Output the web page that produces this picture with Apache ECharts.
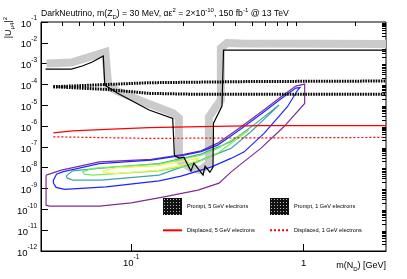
<!DOCTYPE html>
<html><head><meta charset="utf-8">
<script src="https://cdn.jsdelivr.net/npm/echarts@6/dist/echarts.min.js"></script>
<style>html,body{margin:0;padding:0;background:#fff}#c{width:407px;height:279px}</style>
</head><body><div id="c"></div>
<script>
const FONT = '"Liberation Sans", Arial, Helvetica, sans-serif';

// ---- tick definitions ----
const xMajorTicks = [0.1, 1];
const xMinorTicks = [0.04,0.05,0.06,0.07,0.08,0.09,0.2,0.3,0.4,0.5,0.6,0.7,0.8,0.9,2];
const yDecadeExponents = [-12,-11,-10,-9,-8,-7,-6,-5,-4,-3,-2,-1];
const yMinorMultipliers = [2,3,4,5,6,7,8,9];

// ---- series data: [m(N_D) GeV, |U_mu4|^2] ----
const grayBand = [[0.0323,1.01e-3],[0.045,1.13e-3],[0.0708,3.6e-3],[0.0736,8.4e-5],[0.083,4.8e-5],[0.127,1.14e-5],[0.175,4.2e-6],[0.189,2.4e-6],[0.189,2.3e-8],[0.222,9.6e-9],[0.254,7.7e-9],[0.282,1.66e-8],[0.282,2.7e-6],[0.306,7.3e-6],[0.331,1.78e-5],[0.331,5.6e-3],[0.359,9.8e-3],[0.432,9.2e-3],[3,8.75e-3]];
const limitLine = [[0.0319,5.5e-4],[0.045,5.5e-4],[0.0521,7.67e-4],[0.0595,1.19e-3],[0.0689,2.32e-3],[0.0703,9.35e-5],[0.083,3.86e-5],[0.127,5.9e-6],[0.174,2.34e-6],[0.178,4.0e-8],[0.189,2.9e-8],[0.202,3.2e-8],[0.222,6.9e-9],[0.231,1.66e-8],[0.261,4.4e-9],[0.268,1.19e-8],[0.286,6.1e-9],[0.298,1.07e-8],[0.300,1.39e-6],[0.336,9.2e-6],[0.343,4.5e-3],[3,4.5e-3]];
const prompt5 = [[0.0354,7.75e-5],[0.127,1.21e-4],[0.494,1.38e-4],[3,1.46e-4]];
const prompt1 = [[0.0354,7.75e-5],[0.0717,5.8e-5],[0.127,3.73e-5],[0.254,3.34e-5],[3,3.34e-5]];
const displaced5 = [[0.0354,4.77e-7],[0.0456,5.94e-7],[0.0717,6.93e-7],[0.127,8.47e-7],[0.254,9.46e-7],[0.564,1.06e-6],[3,1.06e-6]];
const displaced1 = [[0.0354,3.06e-7],[0.0671,2.8e-7],[0.127,2.56e-7],[0.494,2.71e-7],[3,2.86e-7]];
const contourPurple = [[0.0321,4.41e-9],[0.0394,7.67e-9],[0.0653,1.92e-8],[0.1305,2.51e-8],[0.2025,4.36e-8],[0.254,6.49e-8],[0.317,1.52e-7],[0.3785,4.12e-7],[0.432,8.95e-7],[0.587,5.88e-6],[0.736,2.48e-5],[0.899,8.38e-5],[1.013,1.04e-4],[1.013,1.23e-5],[0.767,9.25e-7],[0.564,8.48e-8],[0.432,1.49e-8],[0.3785,6.14e-9],[0.323,1.82e-9],[0.244,8.38e-10],[0.155,3.99e-10],[0.1,2.05e-10],[0.0653,1.43e-10],[0.0336,1.43e-10],[0.0321,1.59e-10],[0.0321,4.41e-9]];
const contourBlue = [[0.0405,6.49e-9],[0.0653,1.57e-8],[0.1305,2.32e-8],[0.2025,4.04e-8],[0.254,5.94e-8],[0.317,1.22e-7],[0.3785,3.31e-7],[0.432,7.18e-7],[0.587,4.71e-6],[0.736,1.99e-5],[0.899,6.71e-5],[0.952,7.1e-5],[0.923,5.38e-5],[0.805,8.48e-6],[0.589,4.46e-7],[0.452,5.81e-8],[0.3785,2.8e-8],[0.29,1.07e-8],[0.1945,3.94e-9],[0.1451,2.35e-9],[0.0714,1.21e-9],[0.041,9.05e-10],[0.0367,1.13e-9],[0.0354,1.82e-9],[0.0354,2.54e-9],[0.0369,4.92e-9],[0.0405,6.49e-9]];
const contourTeal = [[0.0419,3.94e-9],[0.0458,7.1e-9],[0.0671,9.57e-9],[0.1451,1.57e-8],[0.254,4.51e-8],[0.3785,1.76e-7],[0.528,1.35e-6],[0.72,1.02e-5],[0.727,9.68e-6],[0.717,8.19e-6],[0.494,5.32e-7],[0.3785,8.48e-8],[0.254,2.32e-8],[0.1451,4.41e-9],[0.0671,2.54e-9],[0.0458,2.54e-9],[0.0427,3.16e-9],[0.0419,3.94e-9]];
const contourGreen = [[0.0523,6.36e-9],[0.0597,9.25e-9],[0.1451,1.49e-8],[0.254,4.04e-8],[0.317,8.48e-8],[0.3955,2.56e-7],[0.481,6.43e-7],[0.468,5.44e-7],[0.432,3.31e-7],[0.317,5.03e-8],[0.2222,1.33e-8],[0.1451,7.1e-9],[0.0597,4.41e-9],[0.0535,4.92e-9],[0.0523,6.36e-9]];
const contourYellow = [[0.0683,6.87e-9],[0.0816,9.89e-9],[0.1451,1.26e-8],[0.2079,2.19e-8],[0.2472,2.9e-8],[0.2538,2.74e-8],[0.2375,2.07e-8],[0.2025,1.41e-8],[0.1451,7.67e-9],[0.0816,5.32e-9],[0.0698,5.81e-9],[0.0683,6.87e-9]];

const titleParts = ['DarkNeutrino, m(Z', 'D', ') = 30 MeV, \u03b1\u03b5', '2', ' = 2\u00d710', '-10', ', 150 fb', '-1', ' @ 13 TeV'];
const legendNames = ['Prompt, 5 GeV electrons','Prompt, 1 GeV electrons','Displaced, 5 GeV electrons','Displaced, 1 GeV electrons'];

// ---- derived tick arrays ----
const yMajorTicks = yDecadeExponents.map(e => Math.pow(10, e));
const yMinorTicks = [];
yDecadeExponents.slice(0, -1).forEach(e => yMinorMultipliers.forEach(k => yMinorTicks.push(k * Math.pow(10, e))));

function hatchPattern() {
  const c = document.createElement('canvas');
  c.width = 3; c.height = 3;
  const g = c.getContext('2d');
  g.fillStyle = '#111'; g.fillRect(0,0,3,3);
  g.fillStyle = '#bbb'; g.fillRect(1,1,1,1);
  return {image: c, repeat: 'repeat'};
}
const pat = hatchPattern();

function powLabel(v) {
  const e = Math.round(Math.log10(v));
  if (e === 0) return '{b|1}';
  return '{b|10}{s|' + e + '}';
}
const labelRich = {
  b: {fontFamily: FONT, fontSize: 9.5, lineHeight: 14, color: '#000', verticalAlign: 'bottom'},
  s: {fontFamily: FONT, fontSize: 6.5, lineHeight: 8, color: '#000', verticalAlign: 'top'}
};

const xBase = {type: 'log', logBase: 10, min: 0.03, max: 3, splitLine: {show: false}, gridIndex: 0};
const yBase = {type: 'log', logBase: 10, min: 1e-12, max: 0.1, splitLine: {show: false}, gridIndex: 0};

function lineSeries(name, data, color, width, type, z) {
  return {name, type: 'line', data, symbol: 'none', smooth: false, z: z,
    lineStyle: {color, width, type: type || 'solid', join: 'miter'}, itemStyle: {color}, emphasis: {disabled: true}, silent: true};
}

const chart = echarts.init(document.getElementById('c'), null, {renderer: 'canvas'});
chart.setOption({
  animation: false,
  backgroundColor: '#fff',
  grid: {left: 41, right: 21, top: 22, bottom: 28, show: true, borderColor: '#000', borderWidth: 1, backgroundColor: 'transparent'},
  xAxis: [
    Object.assign({}, xBase, {
      axisLine: {show: true, lineStyle: {color: '#000', width: 1}},
      axisTick: {show: true, inside: true, length: 7, customValues: xMajorTicks, lineStyle: {color: '#000'}},
      axisLabel: {show: true, customValues: xMajorTicks, formatter: powLabel, rich: labelRich, margin: 3}
    }),
    Object.assign({}, xBase, {
      axisLine: {show: false},
      axisTick: {show: true, inside: true, length: 4, customValues: xMinorTicks, lineStyle: {color: '#000'}},
      axisLabel: {show: false}
    })
  ],
  yAxis: [
    Object.assign({}, yBase, {
      axisLine: {show: true, lineStyle: {color: '#000', width: 1}},
      axisTick: {show: true, inside: true, length: 7, customValues: yMajorTicks, lineStyle: {color: '#000'}},
      axisLabel: {show: true, customValues: yMajorTicks, formatter: powLabel, rich: labelRich, margin: 4}
    }),
    Object.assign({}, yBase, {
      axisLine: {show: false},
      axisTick: {show: true, inside: true, length: 4, customValues: yMinorTicks, lineStyle: {color: '#000'}},
      axisLabel: {show: false}
    })
  ],
  legend: [
    {left: 162, top: 198, padding: 0, orient: 'vertical', itemWidth: 19, itemHeight: 17, itemGap: 8.5, selectedMode: false,
     textStyle: {fontFamily: FONT, fontSize: 5.6, color: '#000'},
     data: [{name: legendNames[0], icon: 'rect', itemStyle: {color: pat, borderWidth: 0}, lineStyle: {width: 0}},
            {name: legendNames[2], itemStyle: {opacity: 0}}]},
    {left: 269, top: 198, padding: 0, orient: 'vertical', itemWidth: 19, itemHeight: 17, itemGap: 8.5, selectedMode: false,
     textStyle: {fontFamily: FONT, fontSize: 5.6, color: '#000'},
     data: [{name: legendNames[1], icon: 'rect', itemStyle: {color: pat, borderWidth: 0}, lineStyle: {width: 0}},
            {name: legendNames[3], itemStyle: {opacity: 0}}]}
  ],
  graphic: [
    {type: 'text', left: 41, top: 7, silent: true, style: {
      text: '{t|' + titleParts[0] + '}{sub|' + titleParts[1] + '}{t|' + titleParts[2] + '}{sup|' + titleParts[3] + '}{t|' + titleParts[4] + '}{sup|' + titleParts[5] + '}{t|' + titleParts[6] + '}{sup|' + titleParts[7] + '}{t|' + titleParts[8] + '}',
      rich: {
        t: {fontFamily: FONT, fontSize: 8.7, lineHeight: 13, fill: '#000', verticalAlign: 'middle'},
        sup: {fontFamily: FONT, fontSize: 6, lineHeight: 6, fill: '#000', verticalAlign: 'top'},
        sub: {fontFamily: FONT, fontSize: 6, lineHeight: 6, fill: '#000', verticalAlign: 'bottom'}
      }}},
    {type: 'text', right: 21, top: 261, silent: true, style: {
      text: '{t|m(N}{sub|D}{t|) [GeV]}',
      rich: {
        t: {fontFamily: FONT, fontSize: 9, lineHeight: 13, fill: '#000', verticalAlign: 'middle'},
        sub: {fontFamily: FONT, fontSize: 6, lineHeight: 6, fill: '#000', verticalAlign: 'bottom'}
      }}},
    {type: 'text', x: 9, y: 17, rotation: Math.PI / 2, silent: true, style: {
      text: '{t||U}{sub|\u03bc4}{t||}{sup|2}', align: 'right', verticalAlign: 'middle',
      rich: {
        t: {fontFamily: FONT, fontSize: 9, lineHeight: 13, fill: '#000', verticalAlign: 'middle'},
        sup: {fontFamily: FONT, fontSize: 6, lineHeight: 6, fill: '#000', verticalAlign: 'top'},
        sub: {fontFamily: FONT, fontSize: 6, lineHeight: 6, fill: '#000', verticalAlign: 'bottom'}
      }}}
  ],
  series: [
    lineSeries('grayBand', grayBand, '#cbcbcb', 8, 'solid', 1),
    lineSeries('purple', contourPurple, '#7e2f94', 1.2, 'solid', 2),
    lineSeries('blue', contourBlue, '#1f27ff', 1.2, 'solid', 3),
    lineSeries('teal', contourTeal, '#40a3ad', 1.2, 'solid', 4),
    lineSeries('green', contourGreen, '#74ee55', 1.2, 'solid', 5),
    lineSeries('yellow', contourYellow, '#f2f25a', 1.2, 'solid', 6),
    lineSeries(legendNames[2], displaced5, '#ff0000', 1.2, 'solid', 7),
    lineSeries(legendNames[3], displaced1, '#ff0000', 1.2, [2, 2], 7),
    lineSeries(legendNames[0], prompt5, '#000', 3, [1.6, 1], 8),
    lineSeries(legendNames[1], prompt1, '#000', 3, [1.6, 1], 8),
    lineSeries('limit', limitLine, '#000', 1.2, 'solid', 9)
  ]
});
</script></body></html>
